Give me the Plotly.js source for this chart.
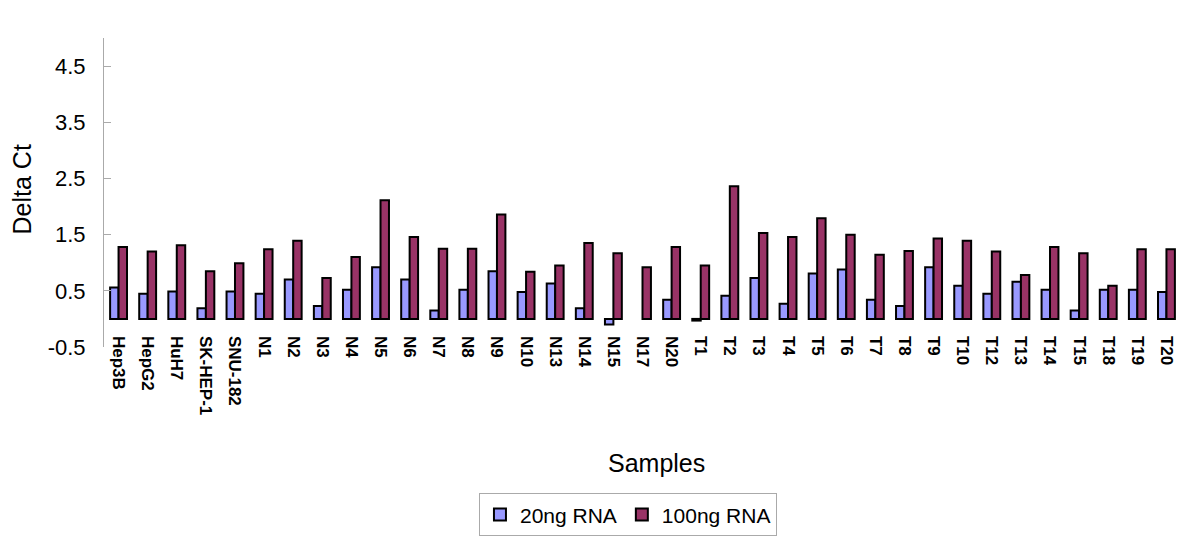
<!DOCTYPE html>
<html>
<head>
<meta charset="utf-8">
<script src="https://cdn.plot.ly/plotly-3.0.1.min.js"></script>
<style>html,body{margin:0;padding:0;background:#fff}#chart{width:1200px;height:548px}</style>
</head>
<body>
<div id="chart"></div>
<script>
const categories = ["Hep3B","HepG2","HuH7","SK-HEP-1","SNU-182","N1","N2","N3","N4","N5","N6","N7","N8","N9","N10","N13","N14","N15","N17","N20","T1","T2","T3","T4","T5","T6","T7","T8","T9","T10","T12","T13","T14","T15","T18","T19","T20"];
const rna20 = [0.56,0.45,0.49,0.19,0.49,0.45,0.70,0.23,0.52,0.92,0.70,0.15,0.52,0.85,0.48,0.63,0.19,-0.10,null,0.34,-0.03,0.41,0.73,0.27,0.81,0.88,0.34,0.23,0.92,0.59,0.45,0.66,0.52,0.15,0.52,0.52,0.48];
const rna100 = [1.28,1.20,1.31,0.85,0.99,1.24,1.39,0.73,1.10,2.11,1.46,1.25,1.25,1.86,0.84,0.95,1.35,1.17,0.92,1.28,0.95,2.36,1.53,1.46,1.79,1.50,1.14,1.21,1.43,1.39,1.20,0.78,1.28,1.17,0.59,1.24,1.24];
const yTicks = [-0.5,0.5,1.5,2.5,3.5,4.5];
const seriesNames = ["20ng RNA","100ng RNA"];

const traces = [
  {type:'bar', x:categories, y:rna20, name:seriesNames[0],
   marker:{color:'#9999FF', line:{color:'#000', width:2}}},
  {type:'bar', x:categories, y:rna100, name:seriesNames[1],
   marker:{color:'#993366', line:{color:'#000', width:2}}}
];

const layout = {
  width:1200, height:548,
  margin:{l:104, r:19, t:38, b:198},
  paper_bgcolor:'#fff', plot_bgcolor:'#fff',
  font:{family:'Arial, Liberation Sans, sans-serif', color:'#000'},
  barmode:'group', bargap:0.42, bargroupgap:0,
  showlegend:true,
  legend:{orientation:'h', x:0.4865, y:-0.474, xanchor:'center', yanchor:'top',
          bordercolor:'#aaa', borderwidth:1, font:{size:21}, itemwidth:30},
  xaxis:{type:'category', anchor:'free', position:0.5/5.5, showline:false, ticks:'',
         tickangle:90, tickfont:{size:17, family:'Arial, Liberation Sans, sans-serif', weight:'bold'},
         showgrid:false, zeroline:false, ticklabelstandoff:16},
  yaxis:{range:[-0.5,5], domain:[0,1], tickvals:yTicks, ticktext:yTicks.map(v=>v.toFixed(1)),
         showline:true, linecolor:'#aaa', linewidth:1, ticks:'inside', ticklen:7, tickcolor:'#aaa',
         tickfont:{size:22}, showgrid:false, zeroline:false, ticklabelstandoff:13},
  annotations:[
    {text:'Delta Ct', xref:'paper', yref:'paper', x:-0.0761, y:0.51, textangle:-90,
     showarrow:false, font:{size:25}, xanchor:'center', yanchor:'middle'},
    {text:'Samples', xref:'paper', yref:'paper', x:0.513, y:-0.375,
     showarrow:false, font:{size:25}, xanchor:'center', yanchor:'middle'}
  ]
};

Plotly.newPlot('chart', traces, layout, {displayModeBar:false, staticPlot:true});
</script>
</body>
</html>
